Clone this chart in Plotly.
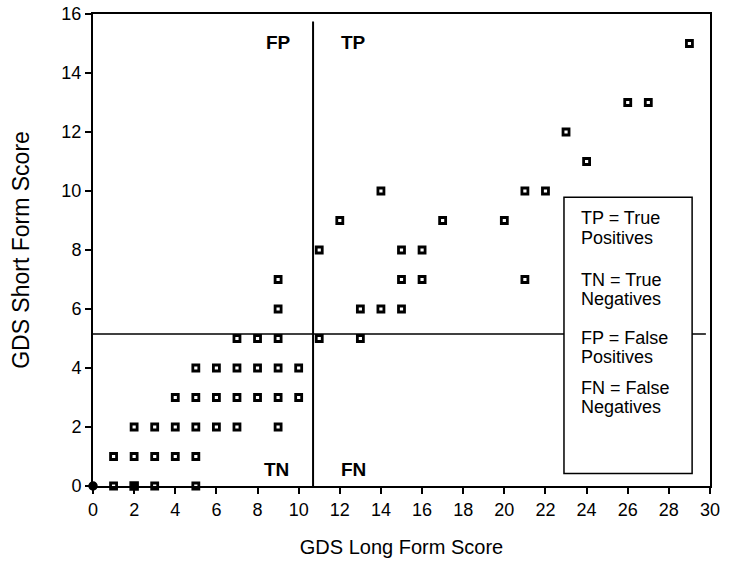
import plotly.graph_objects as go

# GDS Long Form (x) vs GDS Short Form (y) scores, one open square per subject
long_form = [1, 3, 5,
             1, 2, 3, 4, 5,
             2, 3, 4, 5, 6, 7, 9,
             4, 5, 6, 7, 8, 9, 10,
             5, 6, 7, 8, 9, 10,
             7, 8, 9, 11, 13,
             9, 13, 14, 15,
             9, 15, 16, 21,
             11, 15, 16,
             12, 17, 20,
             14, 21, 22,
             24, 23, 26, 27, 29]
short_form = [0, 0, 0,
              1, 1, 1, 1, 1,
              2, 2, 2, 2, 2, 2, 2,
              3, 3, 3, 3, 3, 3, 3,
              4, 4, 4, 4, 4, 4,
              5, 5, 5, 5, 5,
              6, 6, 6, 6,
              7, 7, 7, 7,
              8, 8, 8,
              9, 9, 9,
              10, 10, 10,
              11, 12, 13, 13, 15]

# overlapping (stacked) observations that appear as solid marks
overlap_long = [0, 2]
overlap_short = [0, 0]

# screening cut-offs
long_cutoff = 10.7
short_cutoff = 5.15

x_ticks = list(range(0, 31, 2))
y_ticks = list(range(0, 17, 2))

quadrants = [("FP", 9.0, 15.02), ("TP", 12.67, 15.02), ("TN", 8.94, 0.56), ("FN", 12.67, 0.56)]
key_lines = ["TP = True", "Positives", "TN = True", "Negatives",
             "FP = False", "Positives", "FN = False", "Negatives"]
key_line_y = [9.10, 8.42, 6.98, 6.33, 5.01, 4.37, 3.32, 2.67]
key_box = dict(x0=22.9, x1=29.13, y0=0.42, y1=9.79)

FONT = "Liberation Sans, Arial, sans-serif"

fig = go.Figure()
fig.add_trace(go.Scatter(
    x=long_form, y=short_form, mode="markers",
    marker=dict(symbol="square-open", size=6, color="black", line=dict(width=2.8, color="black")),
    cliponaxis=False, showlegend=False, hoverinfo="x+y"))
fig.add_trace(go.Scatter(
    x=overlap_long, y=overlap_short, mode="markers",
    marker=dict(symbol=["circle", "square"], size=8, color="black", line=dict(width=1.5, color="black")),
    cliponaxis=False, showlegend=False, hoverinfo="x+y"))

# cut-off lines
fig.add_shape(type="line", xref="x", yref="y", x0=long_cutoff, x1=long_cutoff, y0=-0.38, y1=15.75,
              line=dict(color="black", width=2))
fig.add_shape(type="line", xref="x", yref="y", x0=0, x1=29.8, y0=short_cutoff, y1=short_cutoff,
              line=dict(color="black", width=1.5))
# key box
fig.add_shape(type="rect", xref="x", yref="y", **key_box,
              line=dict(color="black", width=1.5), fillcolor="white", layer="above")

for label, qx, qy in quadrants:
    fig.add_annotation(x=qx, y=qy, xref="x", yref="y", text="<b>" + label + "</b>", showarrow=False,
                       font=dict(family=FONT, size=19, color="black"))

for txt, ky in zip(key_lines, key_line_y):
    fig.add_annotation(x=23.65, y=ky, xref="x", yref="y", text=txt, showarrow=False,
                       xanchor="left", yanchor="middle",
                       font=dict(family=FONT, size=18, color="black"))

axis_common = dict(showline=True, linecolor="black", linewidth=2, mirror=True,
                   showgrid=False, zeroline=False, ticks="outside", ticklen=6,
                   tickwidth=1.5, tickcolor="black", ticklabeloverflow="allow")

fig.update_xaxes(range=[0, 30], tickvals=x_ticks, ticktext=[str(v) for v in x_ticks],
                 tickfont=dict(family=FONT, size=18, color="black"),
                 title=dict(text="GDS Long Form Score", standoff=21,
                            font=dict(family=FONT, size=20, color="black")),
                 **axis_common)
fig.update_yaxes(range=[0, 16], tickvals=y_ticks, ticktext=[str(v) for v in y_ticks],
                 tickfont=dict(family=FONT, size=18, color="black"),
                 title=dict(text="GDS Short Form Score", standoff=25,
                            font=dict(family=FONT, size=23, color="black")),
                 **axis_common)

fig.update_layout(width=730, height=572, margin=dict(l=93, r=20, t=14, b=86, autoexpand=False),
                  plot_bgcolor="white", paper_bgcolor="white",
                  font=dict(family=FONT, color="black"))

fig.write_html("out.html", config={"displayModeBar": False},
               post_script="document.body.style.margin='0px';")
